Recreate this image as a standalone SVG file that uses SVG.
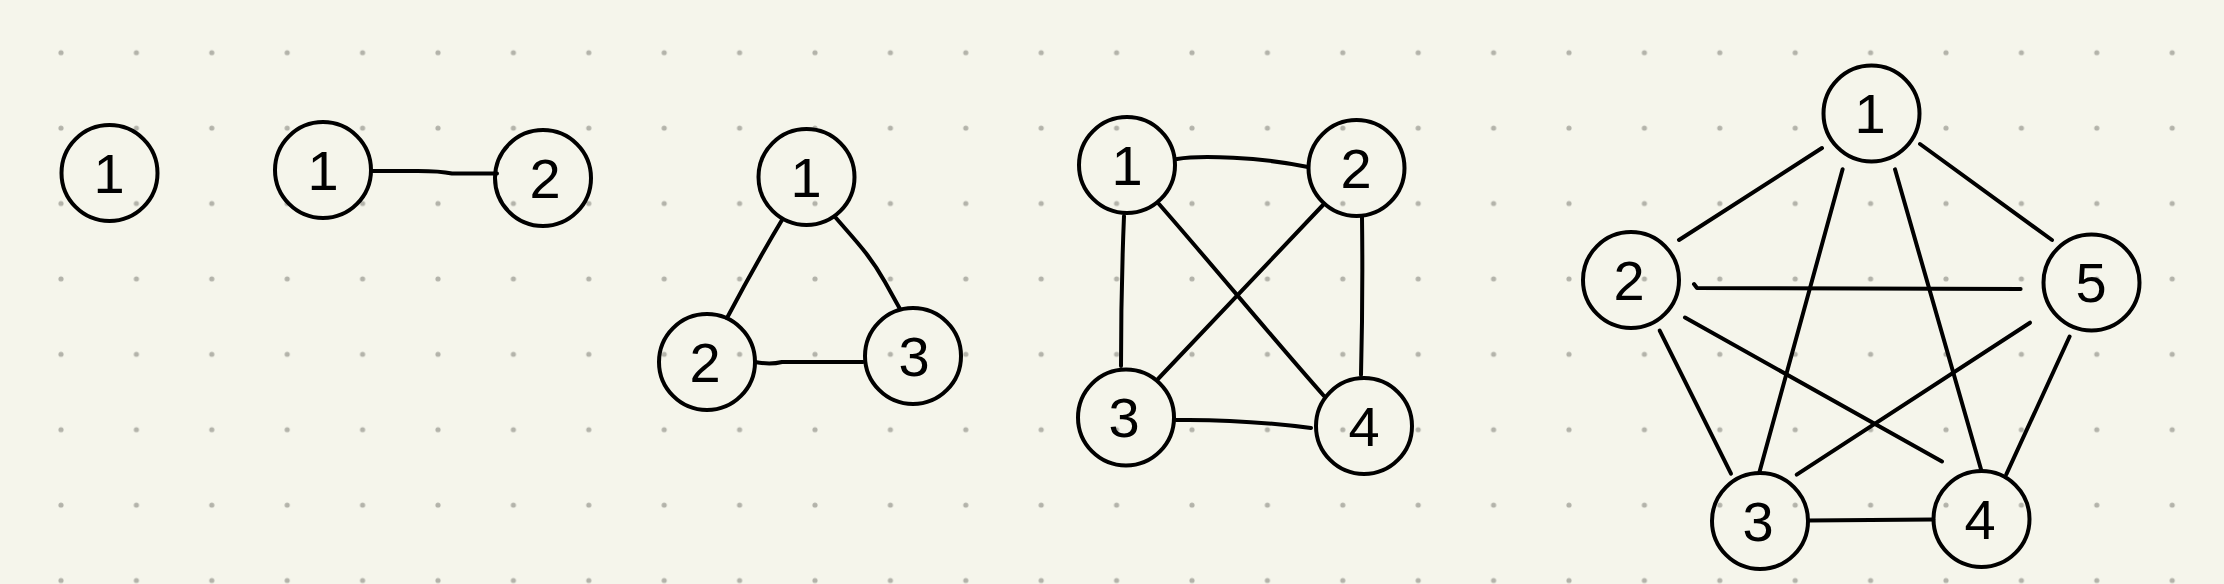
<svg xmlns="http://www.w3.org/2000/svg" width="2224" height="584" viewBox="0 0 2224 584">
<defs>
<pattern id="dots" patternUnits="userSpaceOnUse" x="23.3" y="15" width="75.4" height="75.4">
<circle cx="37.7" cy="37.7" r="2.6" fill="#b3b3aa"/>
</pattern>
<style>
.n{fill:none;stroke:#000;stroke-width:4}
.e{fill:none;stroke:#000;stroke-width:4;stroke-linecap:round;stroke-linejoin:round}
.t{font-family:"Liberation Sans",Arial,sans-serif;font-size:56px;fill:#000;text-anchor:middle}
</style>
</defs>
<rect x="0" y="0" width="2224" height="584" fill="#f5f5eb"/>
<rect x="0" y="0" width="2224" height="584" fill="url(#dots)"/>
<g id="edges">
<path class="e" d="M371,171 L418,171 Q440,171 452,173.5 L497,173.5"/>
<path class="e" d="M782,220 Q755,265 727,318"/>
<path class="e" d="M836,218 C855,240 870,255 885,282 L900,309"/>
<path class="e" d="M755,362 Q770,365 782,362 L863,362"/>
<path class="e" d="M1177,159 C1200,155 1260,157 1308,167"/>
<path class="e" d="M1124,216 Q1121,290 1121,366"/>
<path class="e" d="M1159,204 C1215,268 1270,335 1324,396"/>
<path class="e" d="M1323,205 L1158,379"/>
<path class="e" d="M1362,217 Q1363,296 1361,375"/>
<path class="e" d="M1176,420 Q1240,419 1311,428"/>
<path class="e" d="M1822,148 L1679,240"/>
<path class="e" d="M1920,144 L2052,240"/>
<path class="e" d="M1842.6,169.3 L1759.2,473"/>
<path class="e" d="M1895,169.3 L1981.5,471"/>
<path class="e" d="M1694,284 L1697,288 L2020.6,289"/>
<path class="e" d="M1659.7,330.6 L1731,473.6"/>
<path class="e" d="M1685,317.5 L1942,461.5"/>
<path class="e" d="M2030,322.7 L1796.7,474.6"/>
<path class="e" d="M2069.6,336.5 L2006.4,474.2"/>
<path class="e" d="M1808.2,520.5 L1933.3,519.4"/>
</g>
<g id="k1-n1"><circle class="n" cx="109.5" cy="173" r="48"/><text class="t" x="109" y="193">1</text></g>
<g id="k2-n1"><circle class="n" cx="323" cy="170" r="48"/><text class="t" x="323" y="190">1</text></g>
<g id="k2-n2"><circle class="n" cx="543" cy="178" r="48"/><text class="t" x="545" y="198">2</text></g>
<g id="k3-n1"><circle class="n" cx="806.5" cy="177" r="48"/><text class="t" x="806" y="197">1</text></g>
<g id="k3-n2"><circle class="n" cx="707" cy="362" r="48"/><text class="t" x="705" y="382">2</text></g>
<g id="k3-n3"><circle class="n" cx="913" cy="356" r="48"/><text class="t" x="914" y="376">3</text></g>
<g id="k4-n1"><circle class="n" cx="1127" cy="165" r="48"/><text class="t" x="1127" y="185">1</text></g>
<g id="k4-n2"><circle class="n" cx="1356.5" cy="168" r="48"/><text class="t" x="1356" y="188">2</text></g>
<g id="k4-n3"><circle class="n" cx="1126" cy="417.5" r="48"/><text class="t" x="1124" y="437">3</text></g>
<g id="k4-n4"><circle class="n" cx="1364" cy="426" r="48"/><text class="t" x="1364" y="446">4</text></g>
<g id="k5-n1"><circle class="n" cx="1871.5" cy="113.5" r="48"/><text class="t" x="1870" y="133">1</text></g>
<g id="k5-n2"><circle class="n" cx="1631" cy="280" r="48"/><text class="t" x="1629" y="300">2</text></g>
<g id="k5-n3"><circle class="n" cx="1760" cy="521" r="48"/><text class="t" x="1758" y="541">3</text></g>
<g id="k5-n4"><circle class="n" cx="1981.5" cy="519" r="48"/><text class="t" x="1980" y="539">4</text></g>
<g id="k5-n5"><circle class="n" cx="2091.5" cy="282.5" r="48"/><text class="t" x="2091" y="302">5</text></g>
</svg>
